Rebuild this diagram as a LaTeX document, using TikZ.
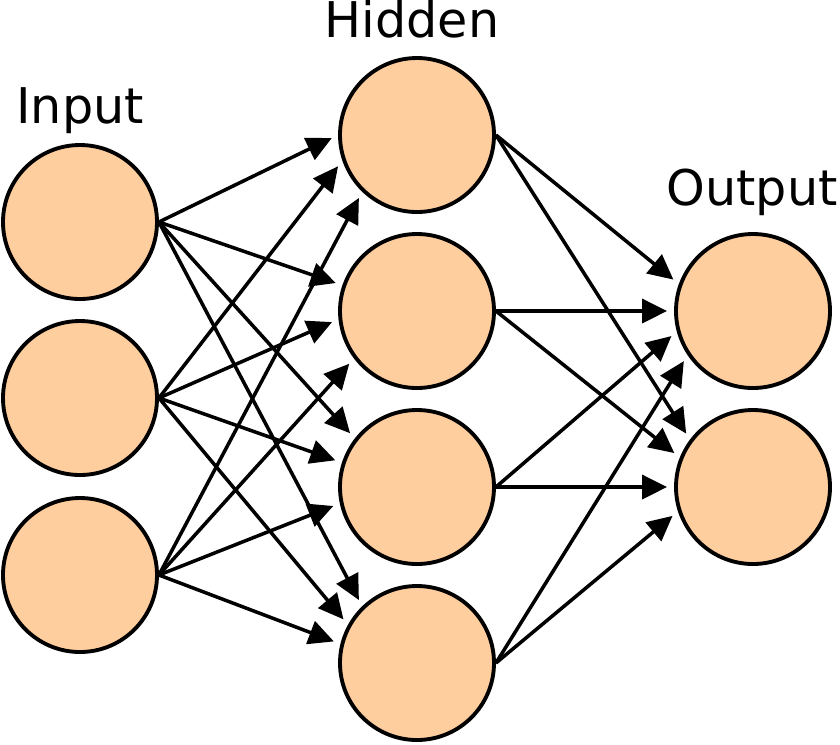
\documentclass[tikz,border=0pt]{standalone}
\usepackage{fontspec}
\setmainfont{DejaVu Sans}
\usepackage{xcolor}
\usepackage{tikz}
\usetikzlibrary{arrows.meta}
\definecolor{neuronfill}{RGB}{255,206,158}

\begin{document}
\begin{tikzpicture}[
    neuron/.style={circle, draw=black, line width=2.2pt, fill=neuronfill, minimum size=3.08cm, inner sep=0pt},
    layerlabel/.style={anchor=base, font=\fontsize{28}{34}\selectfont},
    arrow/.style={-{Triangle[length=0.5cm, width=0.48cm]}, line width=2pt, shorten >=0.14cm},
]
\useasboundingbox (0,0) rectangle (16.8,-14.88);

% === LAYOUT: 3 columns (Input/Hidden/Output) ===

% Column 0: Input (x=1.6)
\node[neuron] (I1) at (1.6,  -4.44) {};
\node[neuron] (I2) at (1.6,  -7.96) {};
\node[neuron] (I3) at (1.6, -11.50) {};

% Column 1: Hidden (x=8.34)
\node[neuron] (H1) at (8.34,  -2.70) {};
\node[neuron] (H2) at (8.34,  -6.22) {};
\node[neuron] (H3) at (8.34,  -9.74) {};
\node[neuron] (H4) at (8.34, -13.26) {};

% Column 2: Output (x=15.06)
\node[neuron] (O1) at (15.06, -6.22) {};
\node[neuron] (O2) at (15.06, -9.74) {};

% =======================================================================
% ARROWS - tips land on the left side of each target
% =======================================================================

% --- (A) INPUT -> HIDDEN ---
\draw[arrow] (I1.east) -- (H1.180);
\draw[arrow] (I1.east) -- (H2.161);
\draw[arrow] (I1.east) -- (H3.142);
\draw[arrow] (I1.east) -- (H4.134);

\draw[arrow] (I2.east) -- (H1.199);
\draw[arrow] (I2.east) -- (H2.186);
\draw[arrow] (I2.east) -- (H3.162);
\draw[arrow] (I2.east) -- (H4.151);

\draw[arrow] (I3.east) -- (H1.226);
\draw[arrow] (I3.east) -- (H2.217);
\draw[arrow] (I3.east) -- (H3.192);
\draw[arrow] (I3.east) -- (H4.166);

% --- (B) HIDDEN -> OUTPUT ---
\draw[arrow] (H1.east) -- (O1.160);
\draw[arrow] (H1.east) -- (O2.143);
\draw[arrow] (H2.east) -- (O1.180);
\draw[arrow] (H2.east) -- (O2.158);
\draw[arrow] (H3.east) -- (O1.195);
\draw[arrow] (H3.east) -- (O2.180);
\draw[arrow] (H4.east) -- (O1.214);
\draw[arrow] (H4.east) -- (O2.198);

% =======================================================================
% LABELS
% =======================================================================
\node[layerlabel] (LI) at (1.6,  -2.46) {Input};
\node[layerlabel] (LH) at (8.24, -0.74) {Hidden};
\node[layerlabel] (LO) at (15.04, -4.10) {Output};

\end{tikzpicture}
\end{document}
